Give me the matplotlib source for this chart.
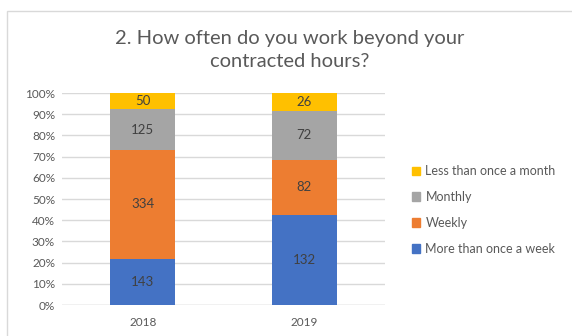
import matplotlib.pyplot as plt
import numpy as np
from matplotlib.patches import Rectangle, Patch

years = ["2018", "2019"]
series = ["More than once a week", "Weekly", "Monthly", "Less than once a month"]
more_than_weekly = [143, 132]
weekly = [334, 82]
monthly = [125, 72]
less_than_monthly = [50, 26]
colors = ["#4472C4", "#ED7D31", "#A5A5A5", "#FFC000"]

plt.rcParams['font.family'] = ['Lato', 'DejaVu Sans']

counts = np.array([more_than_weekly, weekly, monthly, less_than_monthly], dtype=float)
pct = counts / counts.sum(axis=0) * 100

fig = plt.figure(figsize=(5.72, 3.36), dpi=100)
# chart border like the excel frame
fig.patches.append(Rectangle((7/572, -0.2), 1.0, 1.2 - 11/336, transform=fig.transFigure,
                             fill=False, edgecolor="#D9D9D9", linewidth=1))

ax = fig.add_axes([62/572, 1 - 305/336, 323/572, 212/336])
x = np.arange(len(years))
bottom = np.zeros(len(years))
for i in range(len(series)):
    ax.bar(x, pct[i], 0.4, bottom=bottom, color=colors[i], zorder=3)
    for j in range(len(years)):
        ax.text(x[j], bottom[j] + pct[i][j] / 2, "%d" % counts[i][j], ha="center", va="center",
                fontsize=9.5, color="#404040", zorder=4)
    bottom += pct[i]

ax.set_xlim(-0.5, 1.5)
ax.set_ylim(0, 100)
ax.set_yticks(np.arange(0, 101, 10))
ax.set_yticklabels(["%d%%" % v for v in range(0, 101, 10)])
ax.set_xticks(x)
ax.set_xticklabels(years)
ax.yaxis.grid(True, color="#D9D9D9", linewidth=1, zorder=0)
for s in ax.spines.values():
    s.set_visible(False)
ax.tick_params(length=0, labelsize=8.5, colors="#595959", pad=5)
ax.tick_params(axis="x", pad=9)
ax.axhline(0, color="#D9D9D9", linewidth=1, zorder=1)

fig.text(0.507, 0.851, "2. How often do you work beyond your\ncontracted hours?", ha="center",
         va="center", fontsize=14.5, color="#595959", linespacing=1.4)

handles = [Patch(color=colors[i], label=series[i]) for i in range(3, -1, -1)]
fig.legend(handles=handles, loc="center left", bbox_to_anchor=(0.7, 0.375), frameon=False,
           fontsize=9, labelcolor="#595959", handlelength=0.7, handleheight=0.7,
           handletextpad=0.4, labelspacing=1.1)

fig.savefig("out.png", dpi=100)
